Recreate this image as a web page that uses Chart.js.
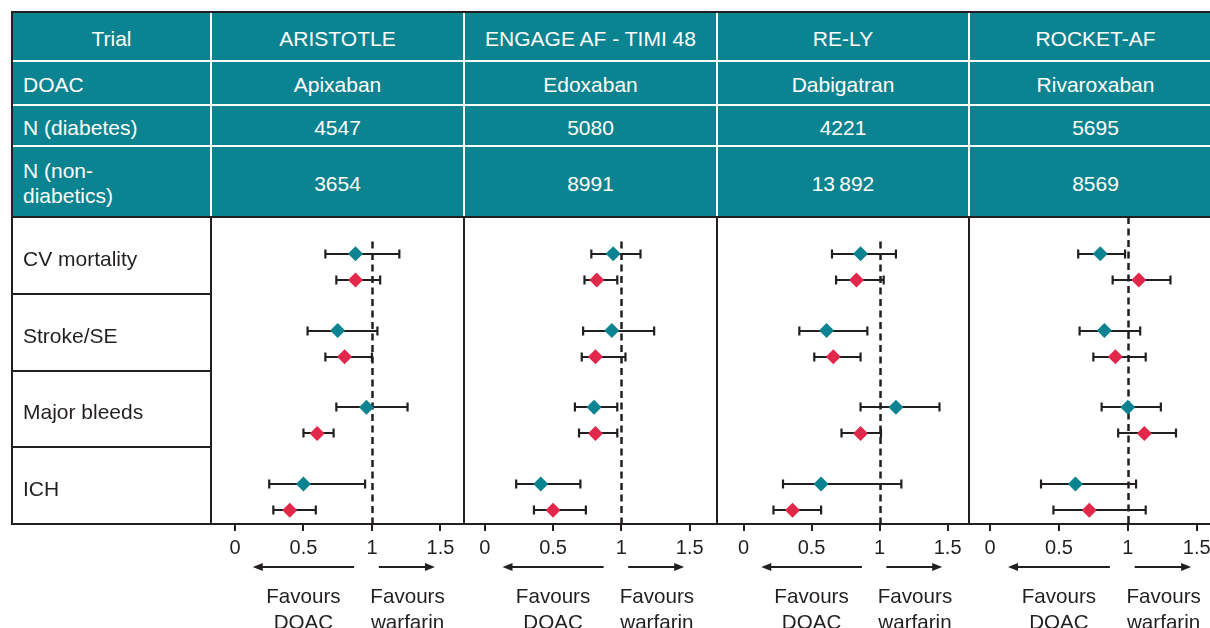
<!DOCTYPE html>
<html>
<head>
<meta charset="utf-8">
<title>DOAC vs warfarin by diabetes status</title>
<script src="https://cdn.jsdelivr.net/npm/chart.js@4.4.0/dist/chart.umd.min.js"></script>
<style>
  html, body { margin: 0; padding: 0; width: 1210px; height: 628px; overflow: hidden; background: #fff;
    font-family: "Liberation Sans", Arial, Helvetica, sans-serif; }
  .abs { position: absolute; box-sizing: border-box; }
  .hcell { color: #fff; font-size: 21px; line-height: 25px; display: flex; align-items: center;
    justify-content: center; text-align: center; background: #0c8390; padding-top: 3px; }
  .hcell.first { justify-content: flex-start; text-align: left; padding-left: 11px; }
  .hcell.trial { justify-content: center; padding-left: 0; }
  .rowlab { color: #231f20; font-size: 21px; display: flex; align-items: center; padding-left: 11px; padding-top: 7px; }
  .ink { background: #231f20; }
  .white { background: #fff; }
  canvas { position: absolute; }
</style>
</head>
<body>
<div id="page"></div>
<script>
// ---- data ----
const trials = ["ARISTOTLE", "ENGAGE AF - TIMI 48", "RE-LY", "ROCKET-AF"];
const doacs = ["Apixaban", "Edoxaban", "Dabigatran", "Rivaroxaban"];
const nDiabetes = ["4547", "5080", "4221", "5695"];
const nNonDiabetics = ["3654", "8991", "13\u2009892", "8569"];
const outcomes = ["CV mortality", "Stroke/SE", "Major bleeds", "ICH"];
const tickValues = [0, 0.5, 1, 1.5];

// hazard ratios (DOAC vs warfarin), one row per trial, columns follow `outcomes`
const hrDiabetes   = [[0.88, 0.75, 0.96, 0.50], [0.94, 0.93, 0.80, 0.41], [0.86, 0.61, 1.12, 0.57], [0.80, 0.83, 1.00, 0.62]];
const lowDiabetes  = [[0.66, 0.53, 0.74, 0.25], [0.78, 0.72, 0.66, 0.23], [0.65, 0.41, 0.86, 0.29], [0.64, 0.65, 0.81, 0.37]];
const highDiabetes = [[1.20, 1.04, 1.26, 0.95], [1.14, 1.24, 0.97, 0.70], [1.12, 0.91, 1.44, 1.16], [0.98, 1.09, 1.24, 1.06]];

const hrNoDiabetes   = [[0.88, 0.80, 0.60, 0.40], [0.82, 0.81, 0.81, 0.50], [0.83, 0.66, 0.86, 0.36], [1.08, 0.91, 1.12, 0.72]];
const lowNoDiabetes  = [[0.74, 0.66, 0.50, 0.28], [0.73, 0.71, 0.69, 0.36], [0.68, 0.52, 0.72, 0.22], [0.89, 0.75, 0.93, 0.46]];
const highNoDiabetes = [[1.06, 1.00, 0.72, 0.59], [0.97, 1.03, 0.97, 0.74], [1.03, 0.86, 1.01, 0.57], [1.31, 1.13, 1.35, 1.13]];

// ---- styling / layout ----
const INK = "#231f20", TEAL = "#0c8390", RED = "#e1284b";
const FONT = '"Liberation Sans", Arial, Helvetica, sans-serif';
const colX = [12, 211, 464, 717, 969, 1222];
const rowY = [12, 61, 105, 146, 217];
const plotTop = 217, plotBottom = 524, canvasH = 411;
const axisMin = [-0.175, -0.152, -0.195, -0.153];
const axisMax = [1.672, 1.700, 1.657, 1.684];
const dashFrom = [0.32, 0.32, 0.32, 0];

const page = document.getElementById("page");
function box(cls, x, y, w, h, html) {
  const d = document.createElement("div");
  d.className = "abs " + cls;
  Object.assign(d.style, { left: x + "px", top: y + "px", width: w + "px", height: h + "px" });
  if (html !== undefined) d.innerHTML = html;
  page.appendChild(d);
  return d;
}

// header table
const headerRows = [
  ["Trial", ...trials],
  ["DOAC", ...doacs],
  ["N (diabetes)", ...nDiabetes],
  ["N (non-<br>diabetics)", ...nNonDiabetics]
];
headerRows.forEach((row, r) => {
  row.forEach((txt, c) => {
    const cls = "hcell" + (c === 0 ? " first" + (r === 0 ? " trial" : "") : "");
    box(cls, colX[c], rowY[r], colX[c + 1] - colX[c], rowY[r + 1] - rowY[r], txt);
  });
});
for (let c = 1; c < 5; c++) box("white", colX[c] - 1, 12, 2, 205);
for (let r = 1; r < 4; r++) box("white", 12, rowY[r] - 1, 1210, 2);
box("ink", 11, 11, 1210, 1.5);
box("ink", 11, 11, 1.5, 206);
box("ink", 11, 216, 1210, 2);

// outcome labels
const rowH = (plotBottom - plotTop) / outcomes.length;
outcomes.forEach((o, i) => {
  box("rowlab", 12, plotTop + i * rowH, 199, rowH, o);
  if (i > 0) box("ink", 12, Math.round(plotTop + i * rowH) - 1, 199, 1.6);
});
box("ink", 11, 217, 2, 308);
box("ink", 12, 523, 199, 2);

// ---- forest plots ----
const forestPlugin = {
  id: "forest",
  beforeDatasetsDraw(chart, args, opts) {
    const { ctx, chartArea: a, scales: { x, y } } = chart;
    ctx.save();
    // line of no effect
    const x1 = Math.round(x.getPixelForValue(1)) + 0.5;
    ctx.strokeStyle = INK;
    ctx.lineWidth = 2.5;
    ctx.setLineDash([7, 4.5]);
    ctx.beginPath();
    ctx.moveTo(x1, y.getPixelForValue(opts.dashFrom));
    ctx.lineTo(x1, a.bottom);
    ctx.stroke();
    ctx.setLineDash([]);
    // 95% confidence intervals
    ctx.lineWidth = 2.2;
    chart.data.datasets.forEach(ds => {
      ds.low.forEach((lo, i) => {
        const py = Math.round(y.getPixelForValue(ds.data[i].y));
        const xl = x.getPixelForValue(lo), xh = x.getPixelForValue(ds.high[i]);
        ctx.beginPath();
        ctx.moveTo(xl, py); ctx.lineTo(xh, py);
        ctx.moveTo(xl, py - 4.5); ctx.lineTo(xl, py + 4.5);
        ctx.moveTo(xh, py - 4.5); ctx.lineTo(xh, py + 4.5);
        ctx.stroke();
      });
    });
    ctx.restore();
  },
  afterDraw(chart) {
    const { ctx, chartArea: a, scales: { x } } = chart;
    ctx.save();
    ctx.strokeStyle = INK; ctx.fillStyle = INK; ctx.lineWidth = 2;
    const ay = a.bottom + 43;
    const arrow = (from, to) => {
      const xs = x.getPixelForValue(from), xe = x.getPixelForValue(to);
      const dir = Math.sign(xe - xs);
      ctx.beginPath(); ctx.moveTo(xs, ay); ctx.lineTo(xe - dir * 8, ay); ctx.stroke();
      ctx.beginPath(); ctx.moveTo(xe, ay); ctx.lineTo(xe - dir * 10, ay - 4); ctx.lineTo(xe - dir * 10, ay + 4); ctx.closePath(); ctx.fill();
    };
    arrow(0.87, 0.13);
    arrow(1.05, 1.46);
    ctx.font = "20.6px " + FONT;
    ctx.textAlign = "center";
    ctx.textBaseline = "alphabetic";
    ctx.fillText("Favours", x.getPixelForValue(0.50), a.bottom + 79);
    ctx.fillText("DOAC", x.getPixelForValue(0.50), a.bottom + 105);
    ctx.fillText("Favours", x.getPixelForValue(1.26), a.bottom + 79);
    ctx.fillText("warfarin", x.getPixelForValue(1.26), a.bottom + 105);
    ctx.restore();
  }
};

Chart.defaults.font.family = FONT;
Chart.defaults.color = INK;

trials.forEach((t, k) => {
  const cv = document.createElement("canvas");
  const w = colX[k + 2] - colX[k + 1];
  cv.width = w; cv.height = canvasH;
  cv.style.left = colX[k + 1] + "px";
  cv.style.top = plotTop + "px";
  page.insertBefore(cv, page.firstChild);

  const points = (vals, off) => vals.map((v, i) => ({ x: v, y: i + off }));
  new Chart(cv, {
    type: "scatter",
    data: {
      datasets: [
        { label: "Diabetes", data: points(hrDiabetes[k], 0.48), low: lowDiabetes[k], high: highDiabetes[k],
          pointStyle: "rectRot", pointRadius: 7.5, pointHoverRadius: 7.5, backgroundColor: TEAL, borderWidth: 0 },
        { label: "No diabetes", data: points(hrNoDiabetes[k], 0.82), low: lowNoDiabetes[k], high: highNoDiabetes[k],
          pointStyle: "rectRot", pointRadius: 7.5, pointHoverRadius: 7.5, backgroundColor: RED, borderWidth: 0 }
      ]
    },
    options: {
      responsive: false,
      animation: false,
      events: [],
      layout: { padding: 0, autoPadding: false },
      plugins: { legend: { display: false }, tooltip: { enabled: false }, forest: { dashFrom: dashFrom[k] } },
      scales: {
        x: {
          type: "linear", min: axisMin[k], max: axisMax[k],
          afterBuildTicks: s => { s.ticks = tickValues.map(v => ({ value: v })); },
          afterFit: s => { s.height = canvasH - (plotBottom - plotTop); },
          ticks: { font: { size: 20 }, color: INK, padding: 5, maxRotation: 0, autoSkip: false,
            callback: v => String(v) },
          grid: { drawOnChartArea: false, drawTicks: true, tickLength: 7, color: INK, lineWidth: 2 },
          border: { display: true, color: INK, width: 2 }
        },
        y: { type: "linear", min: 0, max: 4, reverse: true, display: false }
      }
    },
    plugins: [forestPlugin]
  });
});

// panel dividers
for (let c = 1; c < 5; c++) box("ink", colX[c] - 1, 217, 2, 308);
</script>
</body>
</html>
